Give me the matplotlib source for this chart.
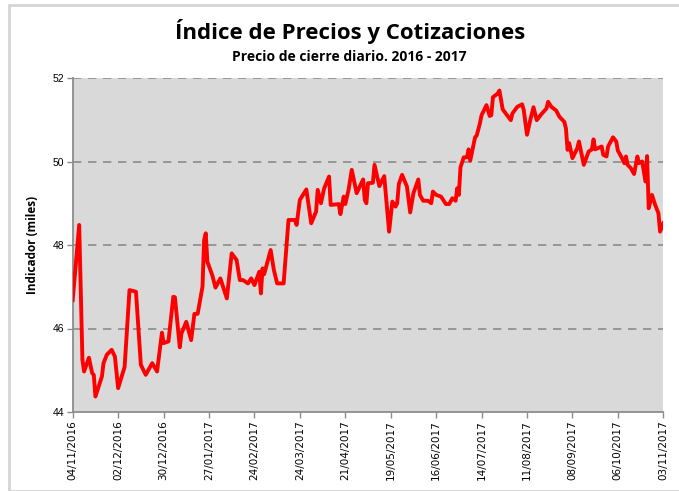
import pandas as pd
import matplotlib
matplotlib.use('Agg')
import matplotlib.pyplot as plt
import matplotlib.dates as mdates
from matplotlib.patches import Rectangle

# datos (miles de puntos)
fechas = [
    '2016-11-04', '2016-11-08', '2016-11-10', '2016-11-11', '2016-11-14', '2016-11-16',
    '2016-11-17', '2016-11-18', '2016-11-22', '2016-11-23', '2016-11-25', '2016-11-28',
    '2016-11-30', '2016-12-02', '2016-12-06', '2016-12-09', '2016-12-13', '2016-12-16',
    '2016-12-19', '2016-12-23', '2016-12-26', '2016-12-29', '2016-12-30', '2017-01-02',
    '2017-01-05', '2017-01-06', '2017-01-09', '2017-01-10', '2017-01-13', '2017-01-16',
    '2017-01-18', '2017-01-20', '2017-01-23', '2017-01-24', '2017-01-25', '2017-01-26',
    '2017-01-29', '2017-01-31', '2017-02-03', '2017-02-07', '2017-02-10', '2017-02-13',
    '2017-02-15', '2017-02-17', '2017-02-20', '2017-02-22', '2017-02-24', '2017-02-27',
    '2017-02-28', '2017-03-01', '2017-03-02', '2017-03-06', '2017-03-08', '2017-03-10',
    '2017-03-14', '2017-03-17', '2017-03-21', '2017-03-22', '2017-03-24', '2017-03-28',
    '2017-03-31', '2017-04-03', '2017-04-04', '2017-04-06', '2017-04-08', '2017-04-11',
    '2017-04-12', '2017-04-17', '2017-04-18', '2017-04-20', '2017-04-21', '2017-04-23',
    '2017-04-25', '2017-04-28', '2017-05-02', '2017-05-03', '2017-05-04', '2017-05-05',
    '2017-05-08', '2017-05-09', '2017-05-12', '2017-05-15', '2017-05-18', '2017-05-20',
    '2017-05-22', '2017-05-23', '2017-05-24', '2017-05-26', '2017-05-29', '2017-05-31',
    '2017-06-02', '2017-06-05', '2017-06-06', '2017-06-08', '2017-06-11', '2017-06-13',
    '2017-06-14', '2017-06-16', '2017-06-19', '2017-06-22', '2017-06-24', '2017-06-26',
    '2017-06-28', '2017-06-29', '2017-06-30', '2017-07-01', '2017-07-03', '2017-07-05',
    '2017-07-06', '2017-07-07', '2017-07-10', '2017-07-11', '2017-07-13', '2017-07-14',
    '2017-07-17', '2017-07-19', '2017-07-20', '2017-07-21', '2017-07-24', '2017-07-25',
    '2017-07-27', '2017-08-01', '2017-08-02', '2017-08-05', '2017-08-08', '2017-08-09',
    '2017-08-11', '2017-08-13', '2017-08-15', '2017-08-17', '2017-08-20', '2017-08-23',
    '2017-08-24', '2017-08-26', '2017-08-29', '2017-08-31', '2017-09-03', '2017-09-04',
    '2017-09-05', '2017-09-06', '2017-09-08', '2017-09-11', '2017-09-12', '2017-09-15',
    '2017-09-18', '2017-09-20', '2017-09-21', '2017-09-22', '2017-09-26', '2017-09-27',
    '2017-09-29', '2017-09-30', '2017-10-03', '2017-10-05', '2017-10-06', '2017-10-08',
    '2017-10-10', '2017-10-11', '2017-10-12', '2017-10-14', '2017-10-16', '2017-10-18',
    '2017-10-19', '2017-10-21', '2017-10-23', '2017-10-24', '2017-10-25', '2017-10-27',
    '2017-10-29', '2017-10-31', '2017-11-01', '2017-11-03',
]
cierre = [
    46.68, 48.48, 45.25, 44.97, 45.30, 44.93,
    44.89, 44.37, 44.85, 45.17, 45.37, 45.49,
    45.33, 44.57, 45.08, 46.92, 46.88, 45.13,
    44.89, 45.17, 44.97, 45.90, 45.65, 45.69,
    46.76, 46.75, 45.55, 45.88, 46.16, 45.72,
    46.35, 46.35, 47.00, 48.12, 48.28, 47.60,
    47.28, 46.98, 47.20, 46.72, 47.80, 47.64,
    47.16, 47.16, 47.08, 47.20, 47.04, 47.36,
    46.84, 47.44, 47.30, 47.88, 47.40, 47.08,
    47.08, 48.60, 48.60, 48.48, 49.08, 49.33,
    48.52, 48.80, 49.32, 49.00, 49.36, 49.64,
    48.96, 48.98, 48.74, 49.16, 48.98, 49.32,
    49.80, 49.24, 49.57, 49.08, 49.00, 49.48,
    49.49, 49.92, 49.41, 49.65, 48.32, 49.04,
    48.92, 49.00, 49.46, 49.68, 49.40, 48.78,
    49.24, 49.57, 49.20, 49.06, 49.06, 49.00,
    49.28, 49.20, 49.16, 48.98, 48.98, 49.12,
    49.06, 49.36, 49.20, 49.86, 50.10, 50.10,
    50.29, 50.02, 50.58, 50.62, 50.92, 51.11,
    51.35, 51.09, 51.11, 51.54, 51.63, 51.70,
    51.25, 50.99, 51.15, 51.31, 51.37, 51.23,
    50.64, 50.99, 51.30, 50.99, 51.14, 51.27,
    51.43, 51.31, 51.22, 51.07, 50.95, 50.79,
    50.28, 50.44, 50.08, 50.32, 50.48, 49.92,
    50.24, 50.29, 50.53, 50.29, 50.36, 50.16,
    50.12, 50.36, 50.58, 50.48, 50.26, 50.12,
    49.96, 50.12, 49.92, 49.84, 49.70, 50.12,
    49.96, 50.00, 49.52, 50.13, 48.88, 49.20,
    48.96, 48.76, 48.32, 48.52,
]
y_ticks = [44, 46, 48, 50, 52]

plt.rcParams['font.family'] = ['Open Sans', 'DejaVu Sans']

fechas_dt = pd.to_datetime(fechas)

fig = plt.figure(figsize=(6.79, 4.91), dpi=100)
fig.patch.set_facecolor('white')
# marco del área del gráfico
fig.patches.append(Rectangle((9/679, 0.0), 1.0, 1 - 5/491, transform=fig.transFigure,
                             fill=False, edgecolor='#d5d5d5', linewidth=2))

ax = fig.add_axes([72.7/679, 1 - 412/491, (663.3 - 72.7)/679, (412 - 78)/491])
ax.set_facecolor('#d9d9d9')

ax.plot(fechas_dt, cierre, color='#ff0000', linewidth=2.8, solid_joinstyle='round', zorder=3)

ax.set_ylim(44, 52)
ax.set_yticks(y_ticks)
ax.set_yticklabels([str(v) for v in y_ticks], fontsize=7.5, family='Liberation Sans')
for v in y_ticks[1:]:
    ax.axhline(v, color='#8c8c8c', linestyle=(0, (5, 4)), linewidth=1.2, zorder=1)

inicio = pd.Timestamp('2016-11-04')
fin = pd.Timestamp('2017-11-03')
ax.set_xlim(inicio, fin)
x_ticks = pd.date_range(inicio, fin, freq='28D')
ax.set_xticks(x_ticks)
ax.xaxis.set_major_formatter(mdates.DateFormatter('%d/%m/%Y'))
plt.setp(ax.get_xticklabels(), rotation=90, fontsize=7.5, family='DejaVu Sans')

for s in ['top', 'right']:
    ax.spines[s].set_visible(False)
for s in ['left', 'bottom']:
    ax.spines[s].set_color('#8c8c8c')
    ax.spines[s].set_linewidth(1.3)
ax.tick_params(axis='both', color='#8c8c8c', length=4, width=1, pad=2)

ax.set_ylabel('Indicador (miles)', fontsize=8.5, fontweight='bold', labelpad=10)

fig.text(0.515, 0.935, 'Índice de Precios y Cotizaciones', ha='center', va='center',
         fontsize=16, fontweight='bold')
fig.text(0.515, 0.884, 'Precio de cierre diario. 2016 - 2017', ha='center', va='center',
         fontsize=10, fontweight='bold')

fig.savefig('out.png', dpi=100)
